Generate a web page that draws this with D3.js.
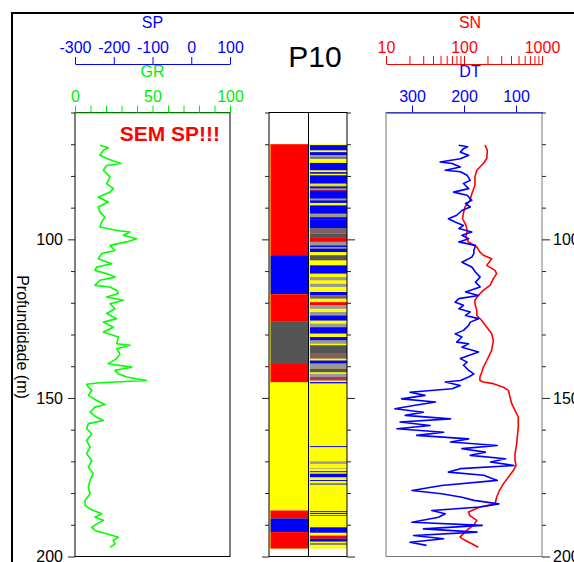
<!DOCTYPE html>
<html>
<head>
<meta charset="utf-8">
<script src="https://cdn.jsdelivr.net/npm/d3@7"></script>
<style>
  body { margin: 0; background: #fff; }
  svg { font-family: "Liberation Sans", Arial, sans-serif; }
</style>
</head>
<body>
<div id="chart"></div>
<script>
// Data: depth (m) vs log value
const grData = [[70.3,16.1],[71.1,21.5],[71.9,18.3],[73.5,16.1],[74.5,20.4],[76.1,29.5],[76.7,20.4],[78.2,18.3],[80.3,22.6],[82.4,20.4],[84.0,24.7],[85.1,22.6],[86.7,15.0],[88.2,21.5],[89.8,15.0],[91.4,16.1],[93.0,19.3],[94.5,17.2],[96.1,16.1],[97.2,26.9],[97.7,35.5],[98.7,31.2],[99.8,39.8],[100.8,33.3],[101.9,22.6],[103.5,25.8],[104.5,17.2],[106.1,15.0],[107.7,23.7],[108.7,14.0],[109.8,12.9],[110.8,20.4],[111.9,25.8],[112.9,16.1],[114.5,12.9],[115.0,22.6],[116.1,26.9],[117.1,28.0],[118.2,20.4],[119.2,31.2],[120.3,22.6],[121.9,25.8],[123.4,20.4],[125.0,26.9],[126.1,18.3],[127.7,24.7],[129.2,18.3],[130.8,28.0],[132.9,26.9],[133.4,35.5],[134.5,26.9],[136.1,29.0],[137.6,26.9],[139.2,21.5],[140.3,36.6],[141.3,25.8],[142.4,28.0],[143.4,33.3],[144.5,46.2],[144.8,33.3],[145.2,16.1],[145.7,7.5],[146.6,8.6],[147.6,10.8],[149.2,8.6],[150.8,14.0],[152.1,19.3],[152.9,12.9],[154.5,9.7],[156.1,14.0],[157.1,18.3],[158.1,8.6],[159.7,7.5],[161.3,10.8],[163.4,7.5],[165.5,9.7],[167.6,7.5],[169.7,10.8],[171.8,8.6],[173.9,11.8],[176.0,9.7],[178.1,8.6],[180.2,9.7],[182.3,6.5],[183.9,6.5],[185.0,9.7],[186.5,17.2],[187.6,12.9],[188.6,18.3],[189.7,14.0],[190.8,10.8],[191.8,12.9],[192.8,20.4],[193.9,28.0],[194.9,24.7],[196.0,25.8],[197.1,22.6]];

const dtData = [[70.3,210],[70.8,193],[71.4,201],[72.5,207],[73.5,191],[74.6,207],[75.6,246],[76.1,223],[77.2,207],[78.2,236],[78.7,207],[79.8,194],[81.4,188],[82.4,201],[84.0,191],[85.1,220],[86.1,194],[87.7,185],[88.7,197],[89.8,188],[90.9,204],[92.4,214],[93.5,230],[94.5,217],[95.6,201],[96.6,210],[97.7,185],[98.7,204],[99.8,191],[100.8,210],[101.9,178],[103.5,181],[104.5,181],[105.6,185],[107.2,204],[108.7,185],[110.3,178],[111.9,169],[113.5,178],[115.0,169],[116.6,197],[117.7,172],[118.7,210],[119.8,217],[120.8,201],[121.9,210],[122.9,188],[124.0,197],[125.0,172],[126.1,188],[127.1,191],[128.7,201],[129.8,217],[130.8,204],[132.4,214],[132.9,191],[134.0,204],[135.5,172],[136.6,191],[137.6,207],[138.7,194],[139.7,201],[141.3,191],[142.4,181],[143.4,191],[144.5,207],[145.0,236],[146.1,207],[147.1,223],[148.2,304],[149.2,275],[150.3,320],[151.3,255],[152.4,297],[153.4,333],[154.5,278],[155.5,313],[156.6,226],[157.6,323],[158.7,265],[159.7,329],[160.8,239],[161.8,291],[162.9,191],[163.9,226],[165.0,136],[166.0,204],[167.1,159],[168.1,188],[169.2,120],[170.2,149],[171.3,104],[172.3,207],[173.4,230],[174.4,162],[176.0,136],[177.6,243],[179.2,300],[180.2,243],[181.3,204],[182.3,181],[183.4,133],[184.4,169],[185.5,262],[186.5,236],[187.6,249],[189.2,300],[190.2,165],[191.3,278],[192.3,175],[193.4,297],[194.4,239],[195.5,304],[196.5,272]];

const snData = [[70.3,186],[71.9,199],[74.5,196],[76.1,177],[78.2,146],[80.3,138],[83.0,138],[85.6,126],[87.7,119],[89.8,103],[91.9,98],[93.5,96],[95.6,106],[97.2,110],[99.3,106],[100.8,114],[102.4,146],[104.0,160],[105.0,177],[106.1,226],[108.2,196],[109.8,250],[110.8,262],[112.4,238],[114.5,215],[116.1,177],[117.7,152],[119.2,138],[120.3,138],[122.4,146],[124.0,146],[125.6,169],[127.7,196],[129.7,226],[131.9,238],[135.0,226],[138.2,196],[140.3,177],[141.9,169],[143.4,160],[144.5,160],[145.0,177],[145.5,238],[146.6,319],[147.6,370],[149.7,389],[151.8,409],[153.9,451],[156.1,497],[159.2,497],[162.4,482],[164.4,474],[167.6,451],[169.7,451],[171.3,464],[172.9,429],[175.0,370],[177.1,319],[179.2,284],[181.3,262],[183.4,250],[184.4,160],[186.0,114],[187.1,119],[188.6,146],[190.2,132],[191.3,114],[192.8,98],[193.9,89],[194.9,103],[196.0,126],[197.1,152]];

// Lithology, column 1: [top, base, class]
const lithoMain = [[70.0,105.0,"R"],[105.0,117.3,"B"],[117.3,126.0,"R"],[126.0,139.3,"D"],[139.3,145.1,"R"],[145.1,185.5,"Y"],[185.5,188.0,"R"],[188.0,192.3,"B"],[192.3,197.5,"R"]];

// Lithology, column 2: thin beds on a yellow base
const lithoBase = [70.0, 197.5];
const lithoBeds = [[70.3,71.9,"B"],[72.5,73.5,"B"],[73.5,74.2,"G"],[74.2,74.5,"B"],[75.9,78.2,"B"],[78.8,79.3,"B"],[79.8,82.4,"B"],[82.8,83.0,"G"],[83.3,84.0,"B"],[84.0,84.5,"G"],[84.5,87.2,"B"],[84.6,84.8,"R"],[87.2,87.7,"G"],[87.7,88.5,"B"],[89.3,91.7,"B"],[91.7,92.1,"R"],[92.1,93.0,"G"],[93.0,96.6,"B"],[93.6,93.8,"R"],[96.6,98.2,"M"],[98.2,99.3,"D"],[99.3,100.8,"R"],[100.8,101.9,"G"],[101.9,102.4,"B"],[102.4,102.9,"G"],[102.9,104.0,"B"],[105.0,106.6,"D"],[108.2,110.8,"B"],[111.9,112.9,"G"],[114.0,115.0,"G"],[116.6,117.7,"B"],[117.7,118.7,"M"],[119.8,120.8,"R"],[120.8,121.9,"G"],[122.9,124.0,"G"],[124.0,125.6,"B"],[126.6,127.7,"G"],[127.7,129.7,"B"],[130.8,131.9,"B"],[131.9,132.9,"G"],[133.4,136.1,"D"],[136.1,137.6,"M"],[138.2,139.2,"B"],[139.2,140.8,"G"],[140.8,141.9,"D"],[142.4,143.4,"G"],[143.4,144.5,"P"],[145.0,145.4,"B"],[165.2,165.5,"B"],[170.0,170.8,"G"],[172.2,172.4,"G"],[173.1,173.4,"B"],[173.9,175.0,"B"],[175.9,176.2,"B"],[177.0,177.3,"B"],[185.7,186.0,"B"],[186.3,186.6,"B"],[187.0,187.2,"B"],[190.8,192.5,"B"],[193.4,194.4,"R"],[194.4,195.3,"B"],[195.9,196.2,"B"]];

const lithoColors = {Y: "#ffff00", R: "#ff0000", B: "#0000ff", D: "#555555", G: "#999999", M: "#806060", P: "#b0306a"};

const depthTicks = d3.range(60, 201, 10);
const depthLabels = [100, 150, 200];
const spTicks = [-300, -200, -100, 0, 100];
const grTicks = d3.range(0, 101, 10);
const grLabels = [0, 50, 100];
const snTicks = [10,20,30,40,50,60,70,80,90,100,200,300,400,500,600,700,800,900,1000];
const snLabels = [10, 100, 1000];
const dtTicks = [300, 200, 100];

const W = 574, H = 562;
const svg = d3.select("#chart").append("svg").attr("width", W).attr("height", H);

const y = d3.scaleLinear([60, 200], [112.5, 556.5]);
const grX = d3.scaleLinear([0, 100], [75, 230]);
const spX = d3.scaleLinear([-300, 100], [75, 230]);
const dtX = d3.scaleLinear([350, 50], [386, 542]);
const snX = d3.scaleLog([10, 1000], [386, 542]);
const col1 = [269, 308.5], col2 = [308.5, 347];

// outer frame
svg.append("path").attr("d", `M12,${H} L12,13 L${W},13`)
    .attr("fill", "none").attr("stroke", "#000").attr("stroke-width", 2);

// lithology columns
function drawColumn(x0, x1, rows) {
    svg.append("rect").attr("x", x0).attr("width", x1 - x0)
        .attr("y", y(lithoBase[0])).attr("height", y(lithoBase[1]) - y(lithoBase[0]))
        .attr("fill", lithoColors.Y);
    svg.append("g").selectAll("rect").data(rows).join("rect")
        .attr("x", x0 + 1.5).attr("width", x1 - x0 - 1.5)
        .attr("y", d => y(d[0])).attr("height", d => y(d[1]) - y(d[0]))
        .attr("fill", d => lithoColors[d[2]]);
}
drawColumn(col1[0], col1[1], lithoMain);
drawColumn(col2[0], col2[1], lithoBeds);

// panel frames
svg.append("rect").attr("x", 75).attr("y", y(60)).attr("width", 155).attr("height", y(200) - y(60))
    .attr("fill", "none").attr("stroke", "#000");
svg.append("rect").attr("x", 386).attr("y", y(60)).attr("width", 156).attr("height", y(200) - y(60))
    .attr("fill", "none").attr("stroke", "#777");
svg.append("rect").attr("x", col1[0]).attr("y", y(60)).attr("width", col2[1] - col1[0]).attr("height", y(200) - y(60))
    .attr("fill", "none").attr("stroke", "#000");
svg.append("line").attr("x1", col1[1]).attr("x2", col1[1]).attr("y1", y(60)).attr("y2", y(200))
    .attr("stroke", "#000");

// depth axes
function depthAxis(axisFn, x, labels, padding, major) {
    const g = svg.append("g").attr("transform", `translate(${x},0)`)
        .call(axisFn(y).tickValues(depthTicks).tickSize(4).tickSizeOuter(0).tickPadding(padding)
            .tickFormat(d => labels && depthLabels.includes(d) ? d : ""));
    g.select(".domain").remove();
    g.selectAll(".tick text").attr("font-size", 16).attr("fill", "#000").attr("font-family", null);
    g.selectAll(".tick line").attr("stroke", "#222");
    const sign = axisFn === d3.axisLeft ? -1 : 1;
    g.selectAll(".tick").filter(d => d % 50 === 0).select("line").attr("x2", sign * major);
}
depthAxis(d3.axisLeft, 75, true, 8, 7);
depthAxis(d3.axisRight, 542, true, 7, 8);
depthAxis(d3.axisLeft, col1[0], false, 0, 7);
depthAxis(d3.axisRight, col2[1], false, 0, 8);

// top axes
function topAxis(scale, yPos, ticks, labels, color, size, pad) {
    const g = svg.append("g").attr("transform", `translate(0,${yPos})`).attr("color", color)
        .call(d3.axisTop(scale).tickValues(ticks).tickSize(size).tickSizeOuter(0).tickPadding(pad)
            .tickFormat(d => labels.includes(d) ? d : ""));
    g.selectAll(".tick text").attr("font-size", 16).attr("font-family", null);
    g.select(".domain").attr("stroke-width", 1.2);
    return g;
}
topAxis(spX, 64, spTicks, spTicks, "#0000ff", 7, 4);
topAxis(grX, 112.5, grTicks, grLabels, "#00ee00", 7, 4);
topAxis(snX, 64, snTicks, snLabels, "#ff0000", 8, 3);
topAxis(dtX, 112.5, dtTicks, dtTicks, "#0000ff", 7, 4);

// axis titles
const titles = [["SP", 152.5, 28, "#0000ff"], ["GR", 152.5, 77, "#00ee00"], ["SN", 470, 28, "#ff0000"], ["DT", 470, 77, "#0000ff"]];
svg.selectAll("text.title").data(titles).join("text").attr("class", "title")
    .attr("x", d => d[1]).attr("y", d => d[2]).attr("fill", d => d[3])
    .attr("text-anchor", "middle").attr("font-size", 16).text(d => d[0]);

svg.append("text").attr("x", 315).attr("y", 67).attr("text-anchor", "middle")
    .attr("font-size", 30).text("P10");

svg.append("text").attr("x", 220).attr("y", 141).attr("text-anchor", "end")
    .attr("font-size", 21).attr("font-weight", "bold").attr("fill", "#ff0000").text("SEM SP!!!");

svg.append("text").attr("transform", "translate(17,337) rotate(90)").attr("text-anchor", "middle")
    .attr("font-size", 16).text("Profundidade (m)");

// curves
function curve(data, scale, color) {
    svg.append("path").datum(data)
        .attr("d", d3.line().x(d => scale(d[1])).y(d => y(d[0])))
        .attr("fill", "none").attr("stroke", color).attr("stroke-width", 1.6)
        .attr("stroke-linejoin", "round");
}
curve(grData, grX, "#00ff00");
curve(snData, snX, "#ff0000");
curve(dtData, dtX, "#0000ff");
</script>
</body>
</html>
